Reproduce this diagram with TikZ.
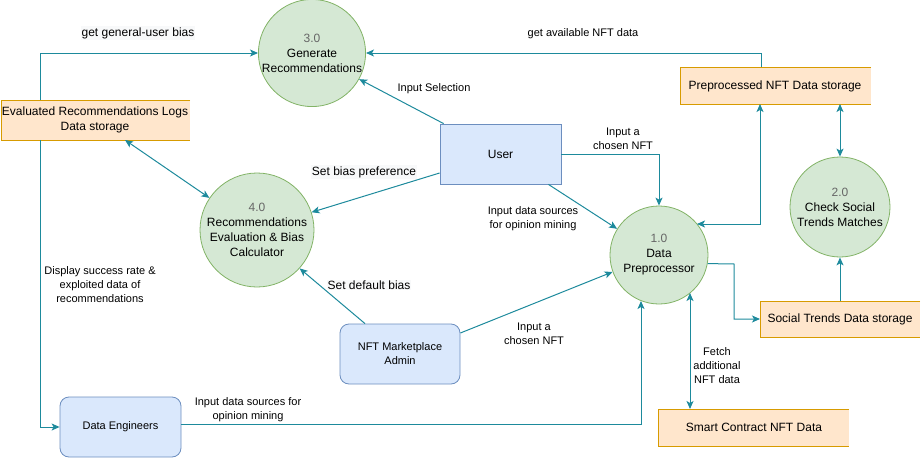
\documentclass[tikz,border=0pt]{standalone}
\usepackage{fontspec}
\setmainfont{Liberation Sans}
\usetikzlibrary{arrows.meta}
\definecolor{edge}{HTML}{1D8A9C}
\definecolor{gfill}{HTML}{D5E8D4}
\definecolor{gline}{HTML}{82B366}
\definecolor{bfill}{HTML}{DAE8FC}
\definecolor{bline}{HTML}{6C8EBF}
\definecolor{ofill}{HTML}{FFE6CC}
\definecolor{oline}{HTML}{D79B00}
\definecolor{numgray}{HTML}{666666}
\definecolor{labbg}{HTML}{F8F9FA}
\tikzset{
  proc/.style={circle,draw=gline,fill=gfill,line width=0.8pt,inner sep=0pt,align=center,font=\fontsize{12}{15}\selectfont},
  actor/.style={rectangle,draw=bline,fill=bfill,line width=0.8pt,align=center,font=\fontsize{11}{14}\selectfont},
  roundactor/.style={actor,rounded corners=9pt},
  storefill/.style={fill=ofill,draw=none},
  storeline/.style={draw=oline,line width=1pt},
  flow/.style={draw=edge,line width=1pt,-{Stealth[length=8pt,width=7pt,inset=2pt]}},
  bflow/.style={draw=edge,line width=1pt,{Stealth[length=8pt,width=7pt,inset=2pt]}-{Stealth[length=8pt,width=7pt,inset=2pt]}},
  lab/.style={font=\fontsize{11}{14}\selectfont,align=center,inner sep=1pt},
  blab/.style={font=\fontsize{12}{14}\selectfont,align=center,inner sep=1pt,fill=labbg},
  stxt/.style={font=\fontsize{12}{15}\selectfont,align=center,inner sep=0pt},
}
\newcommand{\num}[1]{{\color{numgray}#1}}
\begin{document}
\begin{tikzpicture}[x=1pt,y=-1pt]
\useasboundingbox (0,0) rectangle (922,458);
% storages
\fill[storefill] (1,100) rectangle (190,140);
\draw[storeline] (190,100) -- (1,100) -- (1,140) -- (190,140);
\node[stxt] (logs) at (95,120) {Evaluated Recommendations Logs\\Data storage};
\coordinate (logsT) at (40,100);
\coordinate (logsB) at (40,140);
\coordinate (logsC) at (125,140);

\fill[storefill] (680,67) rectangle (871,104);
\draw[storeline] (871,67) -- (680,67) -- (680,104) -- (871,104);
\node[stxt] (pre) at (775,86) {Preprocessed NFT Data storage};
\coordinate (preT) at (761,67);
\coordinate (preB1) at (760,104);
\coordinate (preB2) at (840,104);

\fill[storefill] (760,301) rectangle (920,337);
\draw[storeline] (920,301) -- (760,301) -- (760,337) -- (920,337);
\node[stxt] (soc) at (840,319) {Social Trends Data storage};
\coordinate (socL) at (760,319);
\coordinate (socT) at (840,301);

\fill[storefill] (658,409) rectangle (849,446);
\draw[storeline] (849,409) -- (658,409) -- (658,446) -- (849,446);
\node[stxt] (smart) at (754,427) {Smart Contract NFT Data};
\coordinate (smartT) at (690,409);

% processes
\node[proc,minimum size=102pt] (p3) at (312,53) {\num{3.0}\\Generate\\Recommendations};
\node[proc,minimum size=114pt] (p4) at (257,230) {\num{4.0}\\Recommendations\\Evaluation \& Bias\\Calculator};
\node[proc,minimum size=98pt] (p1) at (659,255) {\num{1.0}\\Data\\Preprocessor};
\node[proc,minimum size=100pt] (p2) at (840,207) {\num{2.0}\\Check Social\\Trends Matches};
\coordinate (p1ne) at (697,224);
\coordinate (p1s) at (690,293);
\coordinate (p1sw) at (641,301);

% actors
\node[actor,minimum width=121pt,minimum height=60pt,font=\fontsize{12}{14}\selectfont] (user) at (500.5,154) {User};
\node[roundactor,minimum width=120pt,minimum height=60pt] (admin) at (400,354) {NFT Marketplace\\Admin};
\node[roundactor,minimum width=121pt,minimum height=60pt] (eng) at (120.5,427) {Data Engineers};

% edges
\draw[flow] (logsT) |- (p3.west);
\node[blab] at (138,33) {get general-user bias};

\draw[flow] (logsB) |- (eng.west);
\node[lab] at (100,285) {Display success rate \&\\exploited data of\\recommendations};

\draw[flow] (preT) |- (p3.east);
\node[lab] at (583,34) {get available NFT data};

\draw[flow] (user.north west) ++(4,0) -- (p3.-29);
\node[lab] at (434,89) {Input Selection};

\draw[flow] (user.west |- 0,173) -- (p4.18);
\node[blab] at (364,172) {Set bias preference};

\draw[bflow] (logsC) -- (p4.146);

\draw[flow] (user.east) -| (p1.north);
\node[lab] at (623,139) {Input a\\chosen NFT};

\draw[flow] (user.south east) ++(-13,0) -- (p1.148);
\node[lab] at (533,219) {Input data sources\\for opinion mining};

\draw[bflow] (p1ne) -- (760,224) -- (preB1);
\draw[bflow] (preB2) -- (p2.north);
\draw[flow] (socT) -- (p2.south);
\draw[flow] (p1.-10) -- (734,264) |- (socL);

\draw[bflow] (p1s) -- (smartT);
\node[lab] at (717,366) {Fetch\\additional\\NFT data};

\draw[flow] (admin.north) ++(-35,0) -- (p4.-42);
\node[blab] at (369,285) {Set default bias};

\draw[flow] (admin.east |- 0,333) -- (p1.200);
\node[lab] at (534,334) {Input a\\chosen NFT};

\draw[flow] (eng.east |- 0,424) -| (p1sw);
\node[lab] at (248,410) {Input data sources for\\opinion mining};
\end{tikzpicture}
\end{document}
